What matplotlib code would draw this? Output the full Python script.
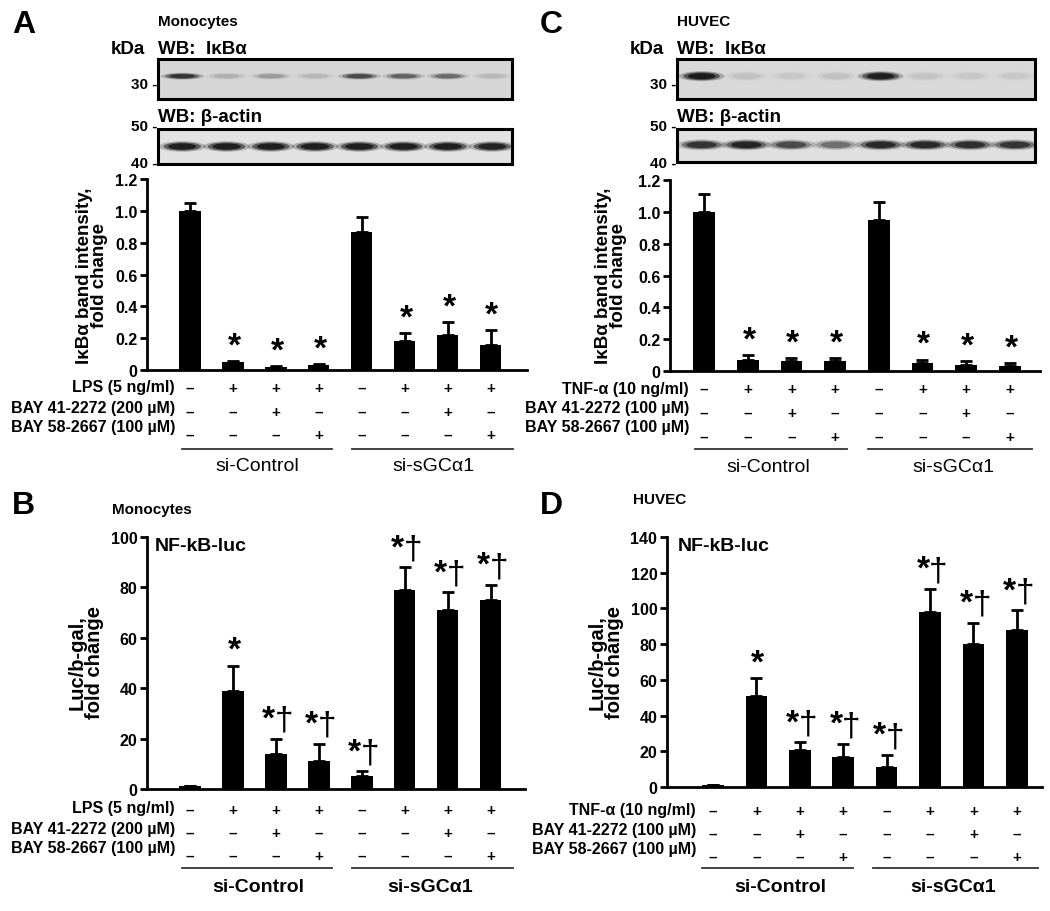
import numpy as np
import matplotlib
matplotlib.use("Agg")
import matplotlib.pyplot as plt
from matplotlib.patches import Ellipse
from matplotlib.transforms import blended_transform_factory

plt.rcParams["font.family"] = ["Liberation Sans", "DejaVu Sans"]
plt.rcParams["font.weight"] = "bold"

W, H = 1050, 912

# ---- data ----
ikb_mono = [1.00, 0.05, 0.02, 0.03, 0.87, 0.18, 0.22, 0.16]
ikb_mono_err = [0.05, 0.005, 0.005, 0.005, 0.09, 0.05, 0.08, 0.09]
ikb_mono_sig = ["", "*", "*", "*", "", "*", "*", "*"]

ikb_huvec = [1.00, 0.07, 0.06, 0.06, 0.95, 0.05, 0.04, 0.03]
ikb_huvec_err = [0.11, 0.03, 0.02, 0.02, 0.11, 0.02, 0.02, 0.02]
ikb_huvec_sig = ["", "*", "*", "*", "", "*", "*", "*"]

luc_mono = [1, 39, 14, 11, 5, 79, 71, 75]
luc_mono_err = [0.3, 10, 6, 7, 2, 9, 7, 6]
luc_mono_sig = ["", "*", "*†", "*†", "*†", "*†", "*†", "*†"]

luc_huvec = [1, 51, 21, 17, 11, 98, 80, 88]
luc_huvec_err = [0.3, 10, 4, 7, 7, 13, 12, 11]
luc_huvec_sig = ["", "*", "*†", "*†", "*†", "*†", "*†", "*†"]

stim_row = ["–", "+", "+", "+", "–", "+", "+", "+"]
bay41_row = ["–", "–", "+", "–", "–", "–", "+", "–"]
bay58_row = ["–", "–", "–", "+", "–", "–", "–", "+"]
groups = ["si-Control", "si-sGCα1"]

rows_mono = ["LPS (5 ng/ml)", "BAY 41-2272 (200 µM)", "BAY 58-2667 (100 µM)"]
rows_huvec = ["TNF-α (10 ng/ml)", "BAY 41-2272 (100 µM)", "BAY 58-2667 (100 µM)"]

ikb_ticks = [0, 0.2, 0.4, 0.6, 0.8, 1.0, 1.2]
ikb_ticklabels = ["0", "0.2", "0.4", "0.6", "0.8", "1.0", "1.2"]

# blot band intensities per lane (0 = none, 1 = black)
blot_a_ikb = [0.75, 0.12, 0.2, 0.1, 0.6, 0.45, 0.4, 0.1]
blot_a_actin = [0.95, 0.95, 0.95, 0.95, 0.95, 0.95, 0.95, 0.9]
blot_c_ikb = [1.0, 0.07, 0.05, 0.07, 0.95, 0.06, 0.05, 0.05]
blot_c_actin = [0.75, 0.9, 0.6, 0.4, 0.85, 0.85, 0.8, 0.75]

fig = plt.figure(figsize=(W / 100, H / 100), dpi=100)


def px_axes(x0, y0, x1, y1):
    return fig.add_axes([x0 / W, 1 - y1 / H, (x1 - x0) / W, (y1 - y0) / H])


def ftext(x, y, s, **kw):
    kw.setdefault("fontweight", "bold")
    fig.text(x / W, 1 - y / H, s, **kw)


def blot(box, intens, yc, h, w, bg):
    ax = px_axes(*box)
    ax.set_xlim(0, 8)
    ax.set_ylim(0, 1)
    ax.set_facecolor(bg)
    for s in ax.spines.values():
        s.set_linewidth(2.2)
    ax.set_xticks([])
    ax.set_yticks([])
    for i, a in enumerate(intens):
        # soft band: stacked ellipses
        for k, sc in enumerate([1.25, 1.0, 0.75]):
            ax.add_patch(Ellipse((i + 0.55, yc), w * sc, h * sc,
                                 facecolor="#111111", edgecolor="none",
                                 alpha=a * (0.25 + 0.3 * k)))
    return ax


def bar_panel(box, vals, errs, sigs, ylim, yticks, yticklabels, xlim):
    ax = px_axes(*box)
    x = np.arange(len(vals))
    ax.bar(x, vals, width=0.5, color="black", zorder=2)
    ax.errorbar(x, vals, yerr=[np.zeros(len(vals)), errs], fmt="none",
                ecolor="black", elinewidth=2, capsize=4.5, capthick=2, zorder=1)
    for xi, v, e, s in zip(x, vals, errs, sigs):
        if s == "*":
            ax.annotate("*", (xi, v + e), xytext=(1, 5), textcoords="offset points",
                        ha="center", va="baseline", fontsize=24, fontweight="bold")
        elif s:
            ax.annotate("*", (xi, v + e), xytext=(-5, 8), textcoords="offset points",
                        ha="center", va="baseline", fontsize=24, fontweight="bold")
            ax.annotate("†", (xi, v + e), xytext=(6, 7), textcoords="offset points",
                        ha="center", va="baseline", fontsize=24, fontweight="normal")
    ax.set_xlim(*xlim)
    ax.set_ylim(*ylim)
    ax.set_yticks(yticks)
    ax.set_yticklabels(yticklabels, fontsize=11.5, fontweight="bold")
    ax.set_xticks([])
    ax.spines["top"].set_visible(False)
    ax.spines["right"].set_visible(False)
    ax.spines["left"].set_linewidth(2)
    ax.spines["bottom"].set_linewidth(2)
    ax.tick_params(axis="y", direction="out", length=5, width=2, pad=2)
    ax.patch.set_alpha(0)
    return ax


def table(ax, labels, label_x, label_ys, sign_ys, fs=11.5):
    tr = blended_transform_factory(ax.transData, fig.transFigure)
    for lab, ly in zip(labels, label_ys):
        ftext(label_x, ly, lab, ha="right", va="center", fontsize=fs)
    for row, sy in zip([stim_row, bay41_row, bay58_row], sign_ys):
        for i, s in enumerate(row):
            ax.text(i, 1 - sy / H, s, transform=tr, ha="center", va="center",
                    fontsize=11, fontweight="bold", clip_on=False)


def group_lines(spans, line_y, label_y, label_xs, fs, weight):
    for (x0, x1), lx, g in zip(spans, label_xs, groups):
        fig.add_artist(plt.Line2D([x0 / W, x1 / W], [1 - line_y / H] * 2,
                                  color="#333333", lw=1.3))
        ftext(lx, label_y, g, ha="center", va="center", fontsize=fs,
              fontweight=weight)


def blot_labels(x, cell):
    ftext(x, 22, cell, fontsize=11, va="center")
    ftext(x - 13, 50, "kDa", fontsize=13.5, va="center", ha="right")
    ftext(x, 50, "WB:  IκBα", fontsize=13.5, va="center")
    ftext(x - 1, 85, "30 -", fontsize=11, va="center", ha="right")
    ftext(x, 117, "WB: β-actin", fontsize=13.5, va="center")
    ftext(x - 1, 127, "50 -", fontsize=11, va="center", ha="right")
    ftext(x - 1, 164, "40 -", fontsize=11, va="center", ha="right")


# ================= Panel A =================
ftext(12, 25, "A", fontsize=23, va="center")
blot_labels(158, "Monocytes")
blot((158, 60, 512, 100), blot_a_ikb, 0.57, 0.14, 0.78, "#d6d6d6")
blot((158, 130, 512, 165), blot_a_actin, 0.5, 0.24, 0.85, "#e2e2e2")

axA = bar_panel((147, 180, 527, 371), ikb_mono, ikb_mono_err, ikb_mono_sig,
                (0, 1.2), ikb_ticks, ikb_ticklabels, (-1.0, 7.85))
ftext(92, 276, "IκBα band intensity,\nfold change", rotation=90,
      ha="center", va="center", fontsize=13.5, linespacing=0.9)
table(axA, rows_mono, 175, [388, 408, 428], [389, 413, 436])
group_lines([(182, 332), (352, 513)], 450, 467, [257, 433], 14, "normal")

# ================= Panel C =================
ftext(540, 25, "C", fontsize=23, va="center")
blot_labels(677, "HUVEC")
blot((677, 60, 1035, 100), blot_c_ikb, 0.57, 0.2, 0.82, "#d9d9d9")
blot((677, 130, 1035, 163), blot_c_actin, 0.52, 0.26, 0.9, "#e0e0e0")

axC = bar_panel((670, 181, 1040, 372), ikb_huvec, ikb_huvec_err, ikb_huvec_sig,
                (0, 1.2), ikb_ticks, ikb_ticklabels, (-0.78, 7.69))
ftext(611, 276, "IκBα band intensity,\nfold change", rotation=90,
      ha="center", va="center", fontsize=13.5, linespacing=0.9)
table(axC, rows_huvec, 689, [390, 409, 428], [390, 414, 438])
group_lines([(695, 847), (868, 1032)], 450, 468, [768, 953], 14, "normal")

# ================= Panel B =================
ftext(12, 506, "B", fontsize=23, va="center")
ftext(112, 510, "Monocytes", fontsize=11, va="center")
axB = bar_panel((147, 538, 525, 790), luc_mono, luc_mono_err, luc_mono_sig,
                (0, 100), [0, 20, 40, 60, 80, 100],
                ["0", "20", "40", "60", "80", "100"], (-1.0, 7.8))
ftext(155, 547, "NF-kB-luc", fontsize=14, va="center")
ftext(86, 663, "Luc/b-gal,\nfold change", rotation=90,
      ha="center", va="center", fontsize=14.5, linespacing=0.9)
table(axB, rows_mono, 175, [809, 830, 849], [811, 834, 857])
group_lines([(182, 332), (352, 513)], 869, 888, [258, 430], 14, "bold")

# ================= Panel D =================
ftext(540, 506, "D", fontsize=23, va="center")
ftext(633, 500, "HUVEC", fontsize=11, va="center")
axD = bar_panel((667, 538, 1042, 788), luc_huvec, luc_huvec_err, luc_huvec_sig,
                (0, 140), [0, 20, 40, 60, 80, 100, 120, 140],
                ["0", "20", "40", "60", "80", "100", "120", "140"], (-1.06, 7.58))
ftext(678, 547, "NF-kB-luc", fontsize=14, va="center")
ftext(606, 663, "Luc/b-gal,\nfold change", rotation=90,
      ha="center", va="center", fontsize=14.5, linespacing=0.9)
table(axD, rows_huvec, 696, [811, 831, 850], [812, 835, 858])
group_lines([(702, 853), (873, 1038)], 869, 888, [780, 953], 14, "bold")

fig.savefig("out.png", dpi=100)
